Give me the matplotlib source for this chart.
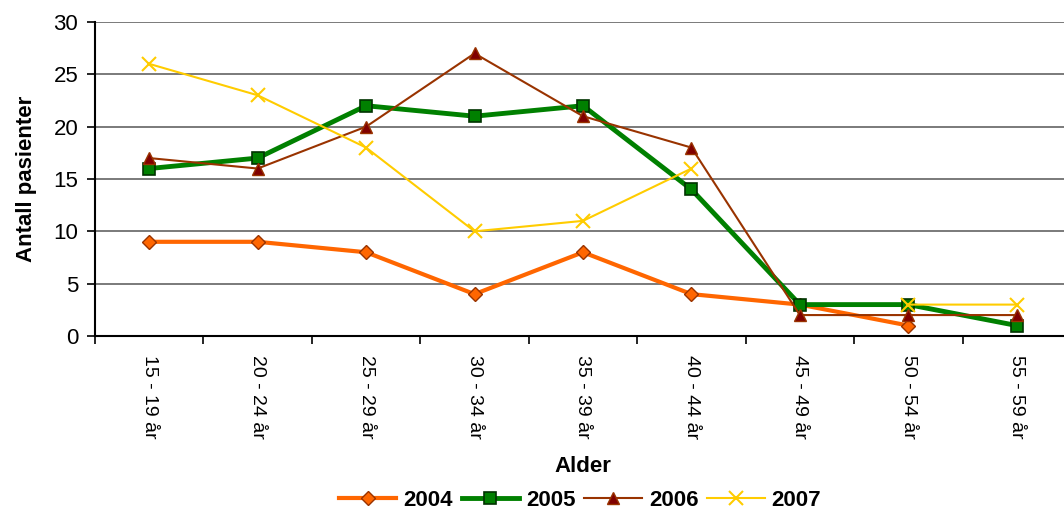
import numpy as np
import matplotlib
matplotlib.use("Agg")
import matplotlib.pyplot as plt

plt.rcParams['font.family'] = ['Liberation Sans', 'DejaVu Sans']

categories = ["15 - 19 år", "20 - 24 år", "25 - 29 år", "30 - 34 år", "35 - 39 år",
              "40 - 44 år", "45 - 49 år", "50 - 54 år", "55 - 59 år"]
s2004 = [9, 9, 8, 4, 8, 4, 3, 1, np.nan]
s2005 = [16, 17, 22, 21, 22, 14, 3, 3, 1]
s2006 = [17, 16, 20, 27, 21, 18, 2, 2, 2]
s2007 = [26, 23, 18, 10, 11, 16, np.nan, 3, 3]
yticks = [0, 5, 10, 15, 20, 25, 30]

fig = plt.figure(figsize=(10.64, 5.12), dpi=100)
W, H = 1064, 512
left, right, top, bottom = 95, 1071, 22, 336
ax = fig.add_axes([left / W, 1 - bottom / H, (right - left) / W, (bottom - top) / H])

x = np.arange(len(categories))
ax.plot(x, s2004, color='#FF6600', lw=3, marker='D', ms=7, mfc='#FF6600', mec='#993300', mew=1, label='2004', zorder=3)
ax.plot(x, s2005, color='#008000', lw=3.5, marker='s', ms=9, mfc='#008000', mec='#003300', mew=1.2, label='2005', zorder=4)
ax.plot(x, s2006, color='#993300', lw=1.5, marker='^', ms=9, mfc='#800000', mec='#993300', mew=1, label='2006', zorder=5)
ax.plot(x, s2007, color='#FFCC00', lw=1.5, marker='x', ms=10, mec='#FFCC00', mew=1.5, label='2007', zorder=6)

ax.set_xlim(-0.5, len(categories) - 0.5)
ax.set_ylim(0, 30)
ax.set_yticks(yticks)
ax.set_xticks(x)
ax.set_xticklabels(categories, rotation=-90, fontsize=14)
ax.set_xticks(np.arange(len(categories) + 1) - 0.5, minor=True)
ax.tick_params(axis='x', which='major', length=0, pad=14)
ax.tick_params(axis='x', which='minor', length=6, width=1.2, direction='out')
ax.tick_params(axis='y', labelsize=16, length=6, width=1.2, direction='out', pad=6)

for y in yticks[1:]:
    ax.axhline(y, color='#707070', lw=1.3, zorder=1)

for s in ['top', 'right']:
    ax.spines[s].set_visible(False)
ax.spines['left'].set_linewidth(1.5)
ax.spines['bottom'].set_linewidth(1.5)

ax.set_ylabel('Antall pasienter', fontsize=16, fontweight='bold', labelpad=12)
ax.set_xlabel('Alder', fontsize=16, fontweight='bold', labelpad=12)

leg = fig.legend(loc='center', bbox_to_anchor=(580 / W, 1 - 500 / H), ncol=4, frameon=False,
                 prop={'size': 16, 'weight': 'bold'}, handlelength=2.6, columnspacing=0.4,
                 handletextpad=0.3, borderpad=0)

fig.savefig('out.png', dpi=100)
